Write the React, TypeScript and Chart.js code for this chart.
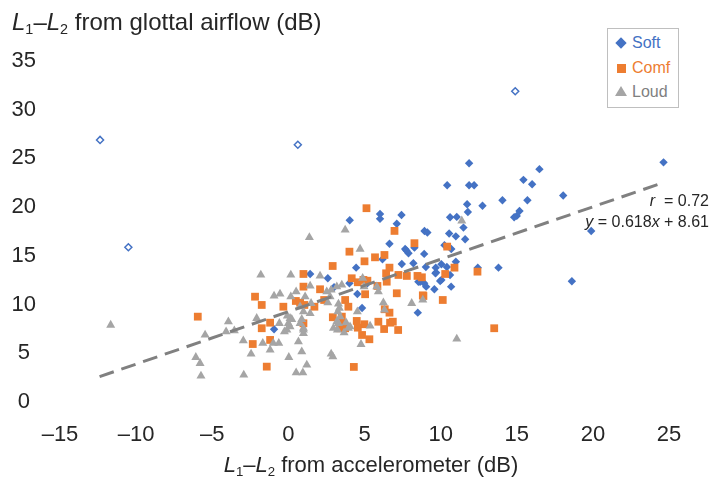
import React, { useEffect, useRef } from "react";
import { Chart, registerables } from "chart.js";

Chart.register(...registerables);

const FONT = "'Liberation Sans', Arial, Helvetica, sans-serif";
const BLUE = "#4472C4";
const ORANGE = "#ED7D31";
const GRAY = "#A5A5A5";

const seriesNames = ["Soft", "Comf", "Loud"];
const xTickValues = [-15, -10, -5, 0, 5, 10, 15, 20, 25];
const yTickValues = [0, 5, 10, 15, 20, 25, 30, 35];

const softPoints = [
  [11.87, 24.5], [24.64, 24.6], [16.49, 23.9], [15.44, 22.8], [16.01, 22.35], [10.43, 22.25],
  [11.87, 22.25], [12.2, 22.25], [18.05, 21.2], [14.06, 20.7], [15.7, 20.7], [12.75, 20.15],
  [11.74, 20.3], [11.79, 19.5], [7.43, 19.2], [15.18, 19.6], [15.0, 19.1], [14.83, 18.96],
  [10.62, 18.96], [11.06, 19.0], [11.5, 17.9], [8.94, 17.55], [9.13, 17.4], [10.56, 17.3],
  [11.0, 17.0], [11.61, 16.7], [19.89, 17.55], [18.62, 12.4], [7.67, 15.7], [7.89, 15.27],
  [8.28, 15.84], [8.92, 15.2], [7.45, 14.17], [8.21, 14.24], [9.03, 13.86], [9.68, 13.79],
  [10.05, 14.14], [10.41, 13.86], [11.0, 14.4], [12.44, 13.79], [13.8, 13.79], [9.7, 13.28],
  [10.05, 12.53], [9.97, 12.42], [8.65, 12.35], [8.92, 12.19], [9.05, 11.84], [9.59, 11.57],
  [10.69, 11.84], [4.03, 18.65], [6.02, 19.3], [6.02, 18.8], [7.12, 18.3], [6.64, 16.25],
  [7.75, 15.55], [10.25, 16.1], [10.7, 15.7], [6.18, 14.65], [4.45, 13.79], [9.66, 13.21],
  [10.62, 13.04], [8.54, 12.35], [1.43, 13.14], [2.59, 12.7], [3.0, 11.78], [4.01, 12.19],
  [5.19, 12.19], [4.53, 11.09], [4.84, 9.65], [8.5, 9.17], [-0.94, 7.46],
];

const softOutliers = [
  [-12.37, 26.9], [-10.51, 15.88], [0.62, 26.4], [14.9, 31.9],
];

const comfPoints = [
  [8.28, 16.3], [10.43, 15.95], [10.91, 13.79], [12.42, 13.38], [10.3, 13.14], [7.78, 12.94],
  [8.48, 12.94], [8.77, 12.8], [8.83, 10.95], [10.14, 10.47], [5.13, 19.89], [6.97, 17.56],
  [4.01, 15.43], [5.0, 14.44], [5.69, 14.85], [6.31, 15.09], [2.91, 13.96], [6.64, 13.79],
  [6.42, 13.21], [7.23, 13.04], [4.16, 12.7], [4.56, 12.29], [4.93, 12.53], [5.19, 12.45],
  [5.85, 11.91], [6.46, 12.35], [0.99, 13.14], [0.99, 11.84], [2.08, 11.57], [2.35, 10.47],
  [-0.33, 9.78], [0.49, 10.37], [0.77, 10.19], [1.05, 9.96], [1.71, 9.78], [-2.19, 10.81],
  [-1.75, 9.96], [-1.75, 7.57], [-1.2, 6.37], [-2.34, 5.95], [5.04, 11.06], [7.12, 11.16],
  [8.87, 10.88], [2.92, 8.7], [3.51, 8.76], [3.73, 10.47], [3.94, 9.78], [3.61, 8.08],
  [3.4, 7.57], [3.73, 7.57], [4.49, 8.32], [4.99, 7.98], [4.56, 7.63], [4.84, 6.88],
  [5.32, 6.44], [5.91, 8.24], [6.29, 7.49], [6.68, 8.14], [6.86, 8.24], [7.21, 7.39],
  [6.33, 9.52], [6.64, 9.17], [13.52, 7.57], [-5.95, 8.76], [0.99, 8.08], [-1.2, 8.14],
  [-1.42, 3.63], [4.3, 3.6],
];

const loudPoints = [
  [-11.67, 7.9], [-5.47, 6.88], [-6.08, 4.59], [-5.8, 3.97], [-5.74, 2.67], [-3.94, 8.24],
  [-4.09, 7.22], [-3.55, 7.32], [-2.96, 6.29], [-2.45, 4.93], [-2.93, 2.77], [-2.08, 8.59],
  [-1.68, 6.03], [-1.2, 5.34], [-0.99, 6.03], [-0.63, 6.03], [-0.59, 8.08], [0.03, 4.59],
  [0.51, 3.01], [0.95, 3.01], [0.0, 8.08], [0.11, 8.59], [-0.1, 7.39], [0.77, 8.08],
  [0.66, 6.19], [0.99, 7.39], [0.88, 5.16], [1.21, 3.8], [-1.81, 13.04], [0.16, 13.04],
  [-0.94, 10.88], [-0.55, 11.09], [0.16, 10.81], [0.51, 11.33], [1.38, 16.9], [3.73, 17.66],
  [4.71, 15.7], [11.39, 18.6], [2.08, 12.94], [1.43, 11.91], [1.1, 10.81], [2.52, 11.33],
  [2.81, 11.5], [3.18, 11.84], [3.51, 12.01], [2.74, 10.81], [4.88, 12.7], [4.97, 11.84],
  [5.81, 11.84], [5.91, 11.33], [6.24, 10.19], [6.31, 9.45], [8.1, 10.13], [8.83, 10.47],
  [-0.26, 7.22], [0.11, 7.73], [-0.07, 8.83], [0.22, 8.49], [0.77, 9.78], [0.99, 9.27],
  [0.88, 8.49], [0.99, 7.57], [0.99, 7.05], [1.43, 9.1], [1.49, 10.13], [2.59, 10.19],
  [3.29, 10.06], [3.35, 9.62], [3.25, 9.27], [3.4, 8.76], [3.18, 8.24], [3.29, 8.08],
  [3.79, 8.14], [3.94, 7.57], [4.05, 7.73], [3.66, 7.12], [3.22, 7.39], [2.96, 7.57],
  [2.81, 4.93], [2.92, 4.65], [4.53, 9.27], [4.77, 5.92], [5.37, 7.8], [11.06, 6.47],
];

const trendLine = [
  [-12.4, 2.6], [24.4, 22.4],
];

const fmtTick = (v: number) => (v < 0 ? "\u2013" + Math.abs(v) : String(v));

export default function App() {
  const ref = useRef<HTMLCanvasElement | null>(null);

  useEffect(() => {
    const toPts = (a: number[][]) => a.map(([x, y]) => ({ x, y }));
    const chart = new Chart(ref.current as HTMLCanvasElement, {
      type: "scatter",
      data: {
        datasets: [
          {
            type: "line",
            label: "trend",
            data: toPts(trendLine),
            borderColor: "#808080",
            borderWidth: 3,
            borderDash: [15, 8],
            pointRadius: 0,
            fill: false,
            order: 0,
          } as any,
          {
            label: seriesNames[2],
            data: toPts(loudPoints),
            pointStyle: "triangle",
            pointRadius: 5.2,
            backgroundColor: GRAY,
            borderColor: GRAY,
            borderWidth: 0,
            order: 1,
          },
          {
            label: seriesNames[1],
            data: toPts(comfPoints),
            pointStyle: "rect",
            pointRadius: 5.5,
            backgroundColor: ORANGE,
            borderColor: ORANGE,
            borderWidth: 0,
            order: 2,
          },
          {
            label: seriesNames[0],
            data: toPts(softPoints),
            pointStyle: "rectRot",
            pointRadius: 4.2,
            backgroundColor: BLUE,
            borderColor: BLUE,
            borderWidth: 0,
            order: 3,
          },
          {
            label: seriesNames[0] + " (outliers)",
            data: toPts(softOutliers),
            pointStyle: "rectRot",
            pointRadius: 3.5,
            backgroundColor: "#ffffff",
            borderColor: BLUE,
            borderWidth: 1.5,
            order: 3,
          },
        ],
      },
      options: {
        responsive: false,
        animation: false,
        devicePixelRatio: 1,
        layout: { padding: { top: 61, right: 45, left: 0, bottom: 0 } },
        plugins: { legend: { display: false }, tooltip: { enabled: false } },
        scales: {
          x: {
            type: "linear",
            min: -15,
            max: 25,
            afterBuildTicks: (s: any) => {
              s.ticks = xTickValues.map((v) => ({ value: v }));
            },
            ticks: {
              font: { family: FONT, size: 22 },
              color: "#262626",
              padding: 12,
              maxRotation: 0,
              autoSkip: false,
              callback: (v: any) => fmtTick(Number(v)),
            },
            grid: { display: false },
            border: { display: false },
            afterFit: (s: any) => {
              s.height = 81;
            },
          },
          y: {
            type: "linear",
            min: 0,
            max: 35,
            afterBuildTicks: (s: any) => {
              s.ticks = yTickValues.map((v) => ({ value: v }));
            },
            ticks: {
              font: { family: FONT, size: 22 },
              color: "#262626",
              padding: 16,
              crossAlign: "center",
              autoSkip: false,
              callback: (v: any) => fmtTick(Number(v)),
            },
            grid: { display: false },
            border: { display: false },
            afterFit: (s: any) => {
              s.width = 60;
            },
          },
        },
      },
    });
    return () => chart.destroy();
  }, []);

  const subStyle: React.CSSProperties = { fontSize: "0.6em", verticalAlign: "-0.3em" };
  const axisLabel = (rest: string) => (
    <>
      <i>L</i>
      <span style={subStyle}>1</span>
      {"\u2013"}
      <i>L</i>
      <span style={subStyle}>2</span>
      {rest}
    </>
  );

  const legendRow = (name: string, color: string, marker: React.ReactNode, top: number) => (
    <div style={{ position: "absolute", left: 0, top, width: 73, height: 20, lineHeight: "20px" }}>
      <div style={{ position: "absolute", left: 13, top: 10, width: 0, height: 0 }}>{marker}</div>
      <span style={{ position: "absolute", left: 24, top: 0, fontSize: 16, color }}>{name}</span>
    </div>
  );

  return (
    <div
      style={{
        position: "absolute",
        left: 0,
        top: 0,
        width: 714,
        height: 483,
        background: "#ffffff",
        fontFamily: FONT,
        color: "#262626",
        overflow: "hidden",
      }}
    >
      <canvas ref={ref} width={714} height={483} style={{ position: "absolute", left: 0, top: 0 }} />
      <div style={{ position: "absolute", left: 12, top: 8, fontSize: 24, lineHeight: "28px", whiteSpace: "nowrap" }}>
        {axisLabel(" from glottal airflow (dB)")}
      </div>
      <div
        style={{
          position: "absolute",
          left: 371,
          top: 452,
          transform: "translateX(-50%)",
          fontSize: 22,
          lineHeight: "26px",
          whiteSpace: "nowrap",
        }}
      >
        {axisLabel(" from accelerometer (dB)")}
      </div>
      <div
        style={{
          position: "absolute",
          right: 5,
          top: 190,
          fontSize: 16,
          lineHeight: "21px",
          textAlign: "right",
          whiteSpace: "nowrap",
        }}
      >
        <div>
          <i>r</i>&nbsp; = 0.72
        </div>
        <div>
          <i>y</i> = 0.618<i>x</i> + 8.61
        </div>
      </div>
      <div
        style={{
          position: "absolute",
          left: 607,
          top: 28,
          width: 72,
          height: 80,
          border: "1.5px solid #BFBFBF",
          boxSizing: "border-box",
          background: "#fff",
        }}
      >
        {legendRow(
          seriesNames[0],
          BLUE,
          <div style={{ position: "absolute", left: -4, top: -4, width: 8, height: 8, background: BLUE, transform: "rotate(45deg)" }} />,
          4
        )}
        {legendRow(
          seriesNames[1],
          ORANGE,
          <div style={{ position: "absolute", left: -4.5, top: -4.5, width: 9, height: 9, background: ORANGE }} />,
          29
        )}
        {legendRow(
          seriesNames[2],
          "#7F7F7F",
          <div
            style={{
              position: "absolute",
              left: -6,
              top: -6,
              width: 0,
              height: 0,
              borderLeft: "6px solid transparent",
              borderRight: "6px solid transparent",
              borderBottom: "10px solid " + GRAY,
            }}
          />,
          53
        )}
      </div>
    </div>
  );
}
